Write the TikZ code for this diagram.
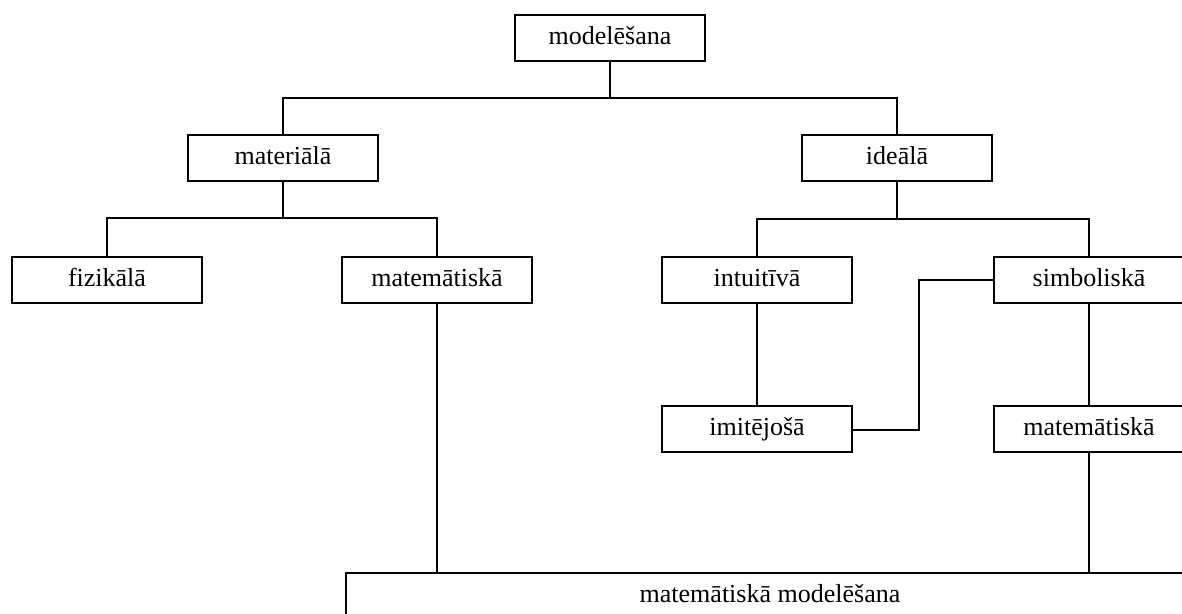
\documentclass[tikz,border=0pt]{standalone}
\usepackage{fontspec}
\setmainfont{Liberation Serif}
\begin{document}
\begin{tikzpicture}[x=1pt,y=-1pt,
  box/.style={draw, line width=2pt, minimum width=190pt, minimum height=46pt,
    inner xsep=0pt, inner ysep=0pt, text height=18pt, text depth=6pt,
    font=\fontsize{26}{30}\selectfont},
  link/.style={line width=2pt}]
\useasboundingbox (0,0) rectangle (1182,613);
\clip (0,0) rectangle (1182,613);

% boxes
\node[box] (root) at (610,38) {modelēšana};
\node[box] (mat) at (283,158) {materiālā};
\node[box] (ide) at (897,158) {ideālā};
\node[box] (fiz) at (107,280) {fizikālā};
\node[box] (matl) at (437,280) {matemātiskā};
\node[box] (int) at (757,280) {intuitīvā};
\node[box] (sim) at (1089,280) {simboliskā};
\node[box] (imi) at (757,429) {imitējošā};
\node[box] (matr) at (1089,429) {matemātiskā};
\node[box, minimum width=848pt] (mm) at (770,596) {matemātiskā modelēšana};

% junction points
\coordinate (j1) at (610,98);
\coordinate (j2) at (283,218);
\coordinate (j3) at (897,219);
\coordinate (j4) at (919,430);

% connectors
\draw[link] (root.south) -- (j1);
\draw[link] (mat.north) |- (j1) -| (ide.north);
\draw[link] (mat.south) -- (j2);
\draw[link] (fiz.north) |- (j2) -| (matl.north);
\draw[link] (ide.south) -- (j3);
\draw[link] (int.north) |- (j3) -| (sim.north);
\draw[link] (int.south) -- (imi.north);
\draw[link] (sim.west) -| (j4) -- (imi.east |- j4);
\draw[link] (sim.south) -- (matr.north);
\draw[link] (matl.south) -- (matl.south |- mm.north);
\draw[link] (matr.south) -- (matr.south |- mm.north);
\end{tikzpicture}
\end{document}
